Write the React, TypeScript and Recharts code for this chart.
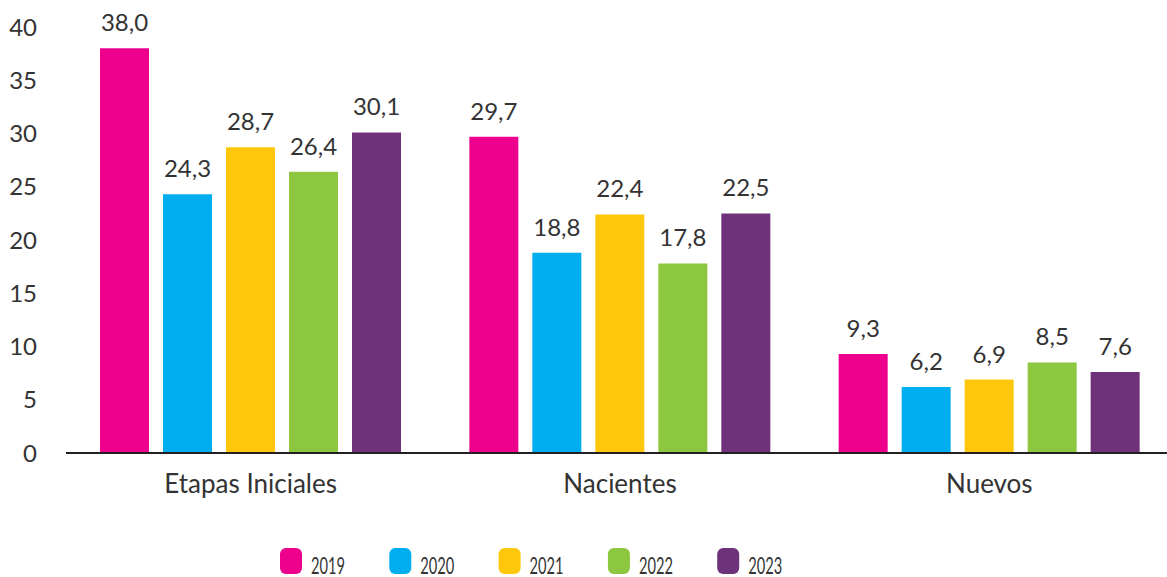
import { BarChart, Bar, XAxis, YAxis, Legend, LabelList } from 'recharts';

const categories = ['Etapas Iniciales', 'Nacientes', 'Nuevos'];
const years = ['2019', '2020', '2021', '2022', '2023'];
const colors = ['#EC008C', '#00AEEF', '#FFC70B', '#8DC63F', '#6D3279'];

// valores por año, en el orden de las categorías
const v2019 = [38.0, 29.7, 9.3];
const v2020 = [24.3, 18.8, 6.2];
const v2021 = [28.7, 22.4, 6.9];
const v2022 = [26.4, 17.8, 8.5];
const v2023 = [30.1, 22.5, 7.6];
const yTicks = [0, 5, 10, 15, 20, 25, 30, 35, 40];

const series = [v2019, v2020, v2021, v2022, v2023];

const data = categories.map((name, i) => {
  const row: Record<string, string | number> = { name };
  years.forEach((y, k) => {
    row[y] = series[k][i];
  });
  return row;
});

const textColor = '#333333';
const fmt = (v: unknown) => Number(v).toFixed(1).replace('.', ',');

// leyenda con cuadritos redondeados y texto angosto
const renderLegend = () => (
  <svg width={1167} height={36} style={{ display: 'block' }}>
    {years.map((y, i) => {
      const x = 280 + i * 109.3;
      return (
        <g key={y}>
          <rect x={x} y={7} width={22} height={26} rx={6} ry={6} fill={colors[i]} />
          <text
            x={x + 31}
            y={33}
            fontSize={24}
            fill={textColor}
            fontFamily="Lato, sans-serif"
            textLength={34}
            lengthAdjust="spacingAndGlyphs"
          >
            {y}
          </text>
        </g>
      );
    })}
  </svg>
);

export default function App() {
  return (
    <div style={{ position: 'absolute', top: 0, left: 0, width: 1167, height: 577, overflow: 'hidden', background: '#fff' }}>
      <BarChart
        width={1175}
        height={577}
        data={data}
        margin={{ top: 27, right: 1, left: 0, bottom: 0 }}
        barSize={49}
        barGap={14}
      >
        <XAxis
          dataKey="name"
          axisLine={{ stroke: '#231F20', strokeWidth: 2 }}
          tickLine={false}
          tickSize={0}
          tickMargin={22}
          height={88}
          tick={{ fill: textColor, fontSize: 26, fontFamily: 'Lato, sans-serif' }}
        />
        <YAxis
          domain={[0, 40]}
          ticks={yTicks}
          interval={0}
          width={66}
          axisLine={false}
          tickLine={false}
          tickSize={0}
          tickMargin={29}
          tick={{ fill: textColor, fontSize: 24, fontFamily: 'Lato, sans-serif' }}
        />
        <Legend verticalAlign="bottom" height={36} content={renderLegend} />
        {years.map((y, i) => (
          <Bar key={y} dataKey={y} fill={colors[i]} isAnimationActive={false}>
            <LabelList
              dataKey={y}
              position="top"
              offset={17}
              formatter={fmt}
              fill={textColor}
              fontSize={24}
              fontFamily="Lato, sans-serif"
            />
          </Bar>
        ))}
      </BarChart>
    </div>
  );
}
